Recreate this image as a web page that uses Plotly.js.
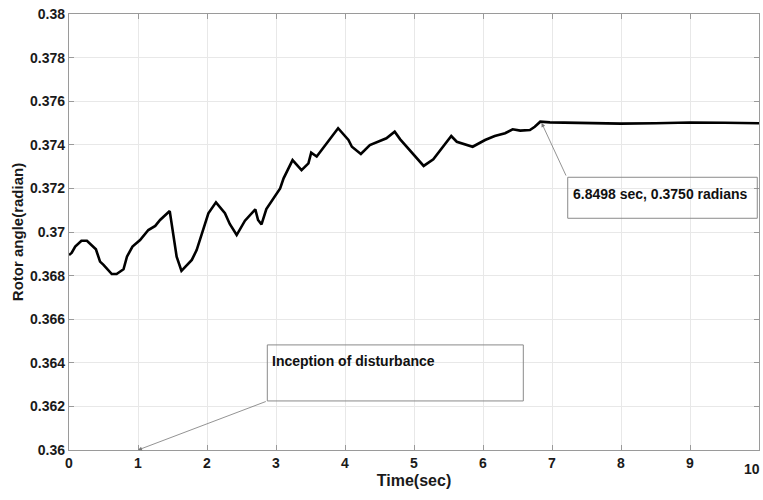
<!DOCTYPE html>
<html>
<head>
<meta charset="utf-8">
<script src="https://cdn.plot.ly/plotly-3.0.1.min.js"></script>
<style>html,body{margin:0;padding:0;background:#fff;}#chart{width:763px;height:500px;}</style>
</head>
<body>
<div id="chart"></div>
<script>
// Time (sec)
const timeSec = [0, 0.04, 0.09, 0.18, 0.26, 0.33, 0.39, 0.45, 0.50, 0.62, 0.69, 0.79, 0.84, 0.92,
  1.03, 1.15, 1.25, 1.32, 1.46, 1.56, 1.63, 1.78, 1.85, 2.02, 2.13, 2.26, 2.33, 2.43, 2.55,
  2.70, 2.74, 2.79, 2.86, 3.06, 3.11, 3.24, 3.37, 3.47, 3.51, 3.59, 3.90, 4.05, 4.10, 4.23,
  4.36, 4.60, 4.72, 4.80, 5.14, 5.28, 5.54, 5.62, 5.85, 6.03, 6.17, 6.32, 6.43, 6.54, 6.68,
  6.75, 6.83, 6.97, 7.5, 8.0, 8.5, 9.0, 9.5, 10.0];
// Rotor angle (radian)
const rotorAngle = [0.36894, 0.36905, 0.36933, 0.36960, 0.36960, 0.36940, 0.36921, 0.36864, 0.36849,
  0.36807, 0.36807, 0.36829, 0.36887, 0.36933, 0.36963, 0.37009, 0.37028, 0.37055, 0.37096,
  0.36887, 0.36822, 0.36872, 0.36917, 0.37086, 0.37136, 0.37086, 0.37037, 0.36986, 0.37052,
  0.37104, 0.37055, 0.37035, 0.37105, 0.37200, 0.37246, 0.37330, 0.37284, 0.37315, 0.37364,
  0.37346, 0.37476, 0.37422, 0.37391, 0.37358, 0.37399, 0.37430, 0.37460, 0.37425, 0.37303,
  0.37333, 0.37440, 0.37414, 0.37391, 0.37422, 0.37440, 0.37453, 0.37471, 0.37465, 0.37468,
  0.37483, 0.37506, 0.37503, 0.37499, 0.37497, 0.37499, 0.37502, 0.37501, 0.37499];

const xTickVals = [0, 1, 2, 3, 4, 5, 6, 7, 8, 9, 10];
const xTickText = ['0', '1', '2', '3', '4', '5', '6', '7', '8', '9', '10'];
const yTickVals = [0.36, 0.362, 0.364, 0.366, 0.368, 0.37, 0.372, 0.374, 0.376, 0.378, 0.38];
const yTickText = ['0.36', '0.362', '0.364', '0.366', '0.368', '0.37', '0.372', '0.374', '0.376', '0.378', '0.38'];

const disturbanceLabel = 'Inception of disturbance';
const disturbancePoint = [1, 0.36];
const settleLabel = '6.8498 sec, 0.3750 radians';
const settlePoint = [6.8498, 0.3750];

const FONT = 'Liberation Sans, Arial, sans-serif';
const TICKFONT = {family: FONT, size: 14, color: '#1a1a1a', weight: 'bold'};

const trace = {
  x: timeSec, y: rotorAngle, type: 'scatter', mode: 'lines',
  line: {color: '#000', width: 2.6}, hoverinfo: 'skip'
};

const axisCommon = {
  showgrid: true, gridcolor: '#e8e8e8', gridwidth: 1,
  showline: true, linecolor: '#9a9a9a', linewidth: 1.2, mirror: 'ticks',
  ticks: 'inside', ticklen: 5, tickcolor: '#9a9a9a', tickwidth: 1,
  zeroline: false,
  tickfont: TICKFONT
};

const lastX = xTickVals[xTickVals.length - 1];

const layout = {
  width: 763, height: 500,
  margin: {l: 69, r: 4, t: 14, b: 50},
  paper_bgcolor: '#fff', plot_bgcolor: '#fff',
  showlegend: false,
  font: {family: FONT, color: '#1a1a1a'},
  xaxis: Object.assign({}, axisCommon, {
    range: [0, 10], tickmode: 'array', tickvals: xTickVals.slice(0, -1), ticktext: xTickText.slice(0, -1),
    title: {text: '<b>Time(sec)</b>', font: {family: FONT, size: 16, color: '#1a1a1a'}, standoff: 4}
  }),
  yaxis: Object.assign({}, axisCommon, {
    range: [0.36, 0.38], tickmode: 'array', tickvals: yTickVals, ticktext: yTickText,
    title: {text: '<b>Rotor angle(radian)</b>', font: {family: FONT, size: 15, color: '#1a1a1a'}, standoff: 2}
  }),
  shapes: [
    {type: 'rect', xref: 'x', yref: 'y', x0: 2.874, x1: 6.584, y0: 0.36225, y1: 0.36482,
     line: {color: '#8a8a8a', width: 1}, fillcolor: 'rgba(255,255,255,0)', layer: 'above'},
    {type: 'rect', xref: 'x', yref: 'y', x0: 7.228, x1: 9.975, y0: 0.37063, y1: 0.37251,
     line: {color: '#8a8a8a', width: 1}, fillcolor: 'rgba(255,255,255,0)', layer: 'above'}
  ],
  annotations: [
    {x: disturbancePoint[0], y: disturbancePoint[1], xref: 'x', yref: 'y',
     ax: 2.874, ay: 0.36225, axref: 'x', ayref: 'y', text: '', showarrow: true,
     arrowhead: 2, arrowsize: 1, arrowwidth: 0.8, arrowcolor: '#777', standoff: 0, startstandoff: 0},
    {x: 2.92, y: 0.36410, xref: 'x', yref: 'y', xanchor: 'left', yanchor: 'middle',
     text: '<b>' + disturbanceLabel + '</b>', showarrow: false,
     font: {family: FONT, size: 14, color: '#111'}},
    {x: settlePoint[0], y: settlePoint[1], xref: 'x', yref: 'y',
     ax: 7.213, ay: 0.37252, axref: 'x', ayref: 'y', text: '', showarrow: true,
     arrowhead: 2, arrowsize: 1, arrowwidth: 0.8, arrowcolor: '#777', standoff: 0, startstandoff: 0},
    {x: 7.27, y: 0.37175, xref: 'x', yref: 'y', xanchor: 'left', yanchor: 'middle',
     text: '<b>' + settleLabel + '</b>', showarrow: false,
     font: {family: FONT, size: 14, color: '#111'}},
    // last x tick label, kept fully inside the page at its right edge
    {x: lastX, y: 0, xref: 'x', yref: 'paper', xanchor: 'right', yanchor: 'top', xshift: 3, yshift: -9,
     text: '<b>' + xTickText[xTickText.length - 1] + '</b>', showarrow: false,
     font: TICKFONT}
  ]
};

Plotly.newPlot('chart', [trace], layout, {displayModeBar: false, staticPlot: true});
</script>
</body>
</html>
